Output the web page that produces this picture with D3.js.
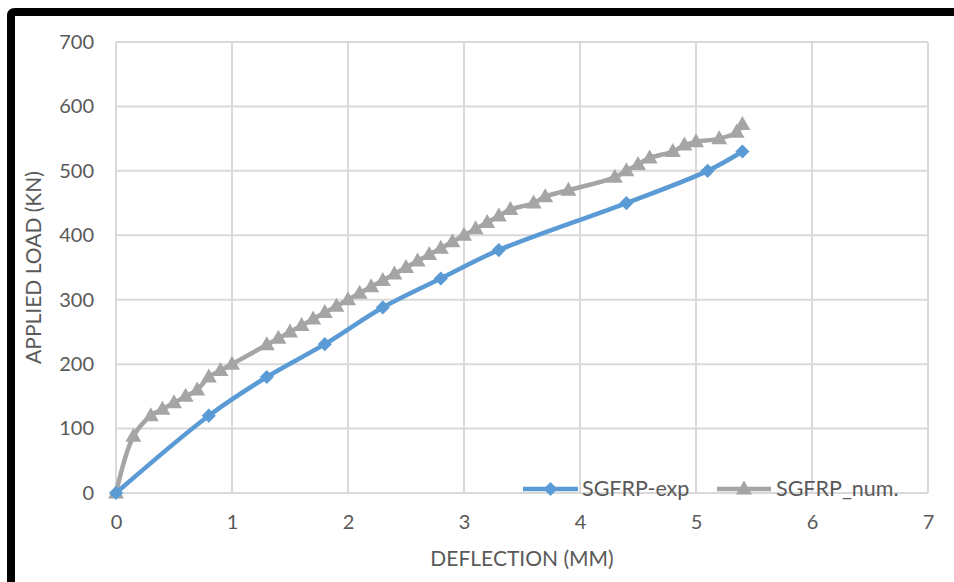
<!DOCTYPE html>
<html>
<head>
<meta charset="utf-8">
<script src="https://cdn.jsdelivr.net/npm/d3@7"></script>
<style>
  html, body { margin: 0; padding: 0; background: #fff; }
  svg { display: block; }
  text { font-family: Lato, "Open Sans", sans-serif; fill: #595959; }
</style>
</head>
<body>
<svg id="chart" width="954" height="582"></svg>
<script>
// Load–deflection data, experimental vs numerical
const expDeflection = [0, 0.8, 1.3, 1.8, 2.3, 2.8, 3.3, 4.4, 5.1, 5.4];
const expLoad       = [0, 120, 180, 231, 288, 333, 377, 450, 500, 530];

const numDeflection = [0, 0.15, 0.3, 0.4, 0.5, 0.6, 0.7, 0.8, 0.9, 1.0,
  1.3, 1.4, 1.5, 1.6, 1.7, 1.8, 1.9, 2.0, 2.1, 2.2, 2.3, 2.4, 2.5, 2.6, 2.7,
  2.8, 2.9, 3.0, 3.1, 3.2, 3.3, 3.4, 3.6, 3.7, 3.9, 4.3, 4.4, 4.5, 4.6, 4.8,
  4.9, 5.0, 5.2, 5.35, 5.4];
const numLoad = [0, 88, 120, 130, 140, 150, 160, 180, 190, 200,
  230, 240, 250, 260, 270, 280, 290, 300, 310, 320, 330, 340, 350, 360, 370,
  380, 390, 400, 410, 420, 430, 440, 450, 460, 470, 490, 500, 510, 520, 530,
  540, 545, 550, 560, 572];

const xTicks = [0, 1, 2, 3, 4, 5, 6, 7];
const yTicks = [0, 100, 200, 300, 400, 500, 600, 700];

const seriesNames = ["SGFRP-exp", "SGFRP_num."];
const seriesColors = ["#5B9BD5", "#A5A5A5"];

const svg = d3.select("#chart");

// frame around the chart
svg.append("path")
  .attr("d", "M11,582 L11,16 Q11,12 15,12 L954,12")
  .attr("fill", "none")
  .attr("stroke", "#000")
  .attr("stroke-width", 8);

const plotLeft = 116, plotRight = 928, plotTop = 42, plotBottom = 493;
const x = d3.scaleLinear().domain([0, 7]).range([plotLeft, plotRight]);
const y = d3.scaleLinear().domain([0, 700]).range([plotBottom, plotTop]);

// gridlines
const grid = svg.append("g");
grid.selectAll("line.v").data(xTicks).join("line").attr("class", "v")
  .attr("x1", d => x(d)).attr("x2", d => x(d))
  .attr("y1", plotTop).attr("y2", plotBottom)
  .attr("stroke", "#D9D9D9").attr("stroke-width", 2);
grid.selectAll("line.h").data(yTicks).join("line").attr("class", "h")
  .attr("x1", plotLeft).attr("x2", plotRight)
  .attr("y1", d => y(d)).attr("y2", d => y(d))
  .attr("stroke", "#D9D9D9").attr("stroke-width", 2);

// tick labels via axes
const xAxis = svg.append("g")
  .attr("transform", `translate(0,${plotBottom})`)
  .call(d3.axisBottom(x).tickValues(xTicks).tickSize(0).tickPadding(22).tickFormat(d3.format("d")));
const yAxis = svg.append("g")
  .attr("transform", `translate(${plotLeft},0)`)
  .call(d3.axisLeft(y).tickValues(yTicks).tickSize(0).tickPadding(22).tickFormat(d3.format("d")));
[xAxis, yAxis].forEach(a => {
  a.select(".domain").remove();
  a.selectAll("text").attr("font-size", 20).attr("fill", "#595959")
    .style("font-family", "Lato, 'Open Sans', sans-serif");
});

// axis titles
svg.append("text")
  .attr("x", (plotLeft + plotRight) / 2).attr("y", 566)
  .attr("text-anchor", "middle").attr("font-size", 21)
  .text("DEFLECTION (MM)");
svg.append("text")
  .attr("transform", `translate(41,${(plotTop + plotBottom) / 2}) rotate(-90)`)
  .attr("text-anchor", "middle").attr("font-size", 21)
  .text("APPLIED LOAD (KN)");

const line = d3.line()
  .x(d => x(d[0])).y(d => y(d[1]))
  .curve(d3.curveCatmullRom.alpha(0.5));

const expData = expDeflection.map((d, i) => [d, expLoad[i]]);
const numData = numDeflection.map((d, i) => [d, numLoad[i]]);

const diamond = d3.symbol().type(d3.symbolSquare).size(100)();
const triangle = "M0,-8.5 L8,5.5 L-8,5.5 Z";

// numerical series (drawn first so experimental stays on top)
svg.append("path").datum(numData)
  .attr("d", line).attr("fill", "none")
  .attr("stroke", seriesColors[1]).attr("stroke-width", 4.5)
  .attr("stroke-linejoin", "round");
svg.append("g").selectAll("path").data(numData).join("path")
  .attr("d", triangle)
  .attr("transform", d => `translate(${x(d[0])},${y(d[1])})`)
  .attr("fill", seriesColors[1]);

// experimental series
svg.append("path").datum(expData)
  .attr("d", line).attr("fill", "none")
  .attr("stroke", seriesColors[0]).attr("stroke-width", 4.5)
  .attr("stroke-linejoin", "round");
svg.append("g").selectAll("path").data(expData).join("path")
  .attr("d", diamond)
  .attr("transform", d => `translate(${x(d[0])},${y(d[1])}) rotate(45)`)
  .attr("fill", seriesColors[0]);

// legend
const legendY = 489;
const legendItems = [
  { name: seriesNames[0], color: seriesColors[0], x0: 523, x1: 578, tx: 582, marker: "d" },
  { name: seriesNames[1], color: seriesColors[1], x0: 717, x1: 771, tx: 776, marker: "t" }
];
const lg = svg.append("g");
legendItems.forEach(it => {
  lg.append("line").attr("x1", it.x0).attr("x2", it.x1)
    .attr("y1", legendY).attr("y2", legendY)
    .attr("stroke", it.color).attr("stroke-width", 4.5);
  lg.append("path")
    .attr("d", it.marker === "d" ? diamond : triangle)
    .attr("transform", it.marker === "d"
      ? `translate(${(it.x0 + it.x1) / 2},${legendY}) rotate(45)`
      : `translate(${(it.x0 + it.x1) / 2},${legendY})`)
    .attr("fill", it.color);
  lg.append("text").attr("x", it.tx).attr("y", legendY + 7)
    .attr("font-size", 21.5).text(it.name);
});
</script>
</body>
</html>
